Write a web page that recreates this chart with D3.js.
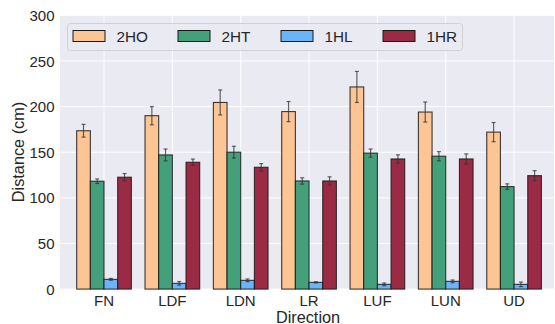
<!DOCTYPE html>
<html><head><meta charset="utf-8">
<script src="https://cdn.jsdelivr.net/npm/d3@7"></script>
<style>body{margin:0;background:#fff}svg{display:block}text{font-family:"Liberation Sans",Arial,sans-serif;fill:#262626}</style>
</head><body><svg id="c" width="555" height="324"></svg>
<script>
const categories = ["FN","LDF","LDN","LR","LUF","LUN","UD"];
const seriesNames = ["2HO","2HT","1HL","1HR"];
const seriesColors = ["#fdc494","#44a07a","#6ab4fb","#9b2a45"];
const v2HO = [173.5,190,204.5,194.5,221.5,194,172];
const e2HO = [7,10,13.7,11,17,11,10.5];
const v2HT = [118.2,147,150,118.5,149,145.6,112.3];
const e2HT = [2.5,6.5,6.5,3.5,4.5,5,3];
const v1HL = [10.7,6.3,9.6,7.4,5.2,8.5,5.2];
const e1HL = [1,2,1.5,0.7,1.5,1.5,2.5];
const v1HR = [122.6,139,133.5,118.5,142.6,142.6,124.3];
const e1HR = [4,3.5,4,4.5,4.5,5.5,5.5];
const yTicks = [0,50,100,150,200,250,300];
const values = [v2HO,v2HT,v1HL,v1HR];
const errors = [e2HO,e2HT,e1HL,e1HR];

const svg = d3.select("#c");
const L=60,R=554,T=15.3,B=289.1;
const x = d3.scaleLinear().domain([-0.644,6.584]).range([L,R]);
const y = d3.scaleLinear().domain([0,300]).range([B,T]);
const bw = 0.2;

svg.append("rect").attr("x",L).attr("y",T).attr("width",R-L).attr("height",B-T).attr("fill","#eaeaf2");
const g = svg.append("g");
g.selectAll(".hg").data(yTicks).join("line").attr("x1",L).attr("x2",R)
 .attr("y1",d=>y(d)).attr("y2",d=>y(d)).attr("stroke","#fff").attr("stroke-width",1);
g.selectAll(".vg").data(categories).join("line").attr("y1",T).attr("y2",B)
 .attr("x1",(d,i)=>x(i)).attr("x2",(d,i)=>x(i)).attr("stroke","#fff").attr("stroke-width",1);

seriesNames.forEach((s,k)=>{
  const off = (k-1.5)*bw;
  const gs = svg.append("g");
  gs.selectAll("rect").data(values[k]).join("rect")
    .attr("x",(d,i)=>x(i+off-bw/2)).attr("width",x(bw)-x(0))
    .attr("y",d=>y(d)).attr("height",d=>y(0)-y(d))
    .attr("fill",seriesColors[k]).attr("stroke","#1a1a1a").attr("stroke-width",1.1).attr("stroke-opacity",0.85);
  const ge = svg.append("g").attr("stroke","#333").attr("stroke-opacity",0.75).attr("stroke-width",1.2);
  values[k].forEach((d,i)=>{
    const cx = x(i+off), e = errors[k][i];
    ge.append("line").attr("x1",cx).attr("x2",cx).attr("y1",y(d+e)).attr("y2",y(d-e));
    ge.append("line").attr("x1",cx-2).attr("x2",cx+2).attr("y1",y(d+e)).attr("y2",y(d+e));
    ge.append("line").attr("x1",cx-2).attr("x2",cx+2).attr("y1",y(d-e)).attr("y2",y(d-e));
  });
});

// axes labels
svg.selectAll(".yt").data(yTicks).join("text").attr("x",54.5).attr("y",d=>y(d)+5.6)
  .attr("text-anchor","end").attr("font-size",15).text(d=>d);
svg.selectAll(".xt").data(categories).join("text").attr("x",(d,i)=>x(i)).attr("y",306)
  .attr("text-anchor","middle").attr("font-size",15).text(d=>d);
svg.append("text").attr("x",308).attr("y",322.5).attr("text-anchor","middle").attr("font-size",16.3).text("Direction");
svg.append("text").attr("transform","translate(24,152) rotate(-90)").attr("text-anchor","middle").attr("font-size",16.3).text("Distance (cm)");

// legend
const lg = svg.append("g");
lg.append("rect").attr("x",67.5).attr("y",23.5).attr("width",395).attr("height",27).attr("rx",3)
  .attr("fill","#eaeaf2").attr("fill-opacity",0.8).attr("stroke","#d0d0d6");
const lx = [73,178,281,383];
seriesNames.forEach((s,k)=>{
  lg.append("rect").attr("x",lx[k]).attr("y",30.5).attr("width",32).attr("height",11)
    .attr("fill",seriesColors[k]).attr("stroke","#1a1a1a").attr("stroke-width",1);
  lg.append("text").attr("x",lx[k]+43.5).attr("y",41.7).attr("font-size",15.3).text(s);
});
</script></body></html>
